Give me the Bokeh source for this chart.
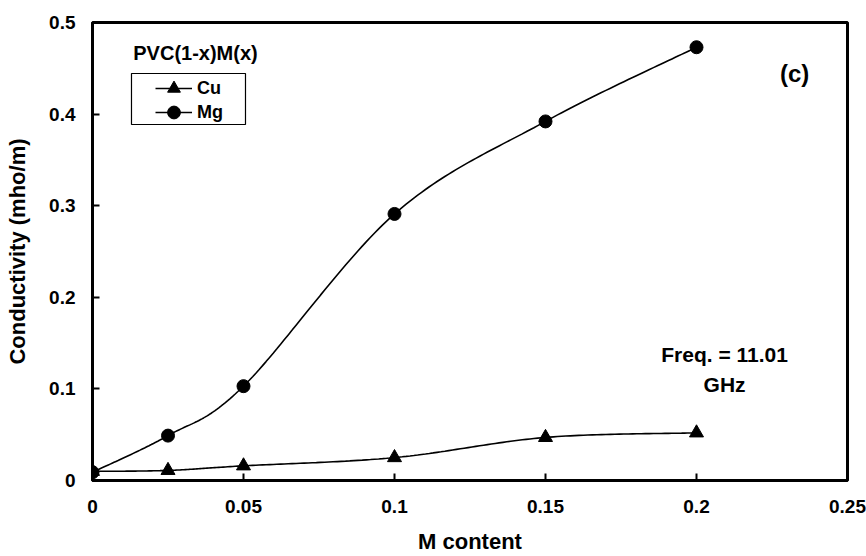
import numpy as np
from bokeh.plotting import figure
from bokeh.models import Label, Legend, LegendItem, FixedTicker, BoxAnnotation
from bokeh.embed import file_html
from bokeh.resources import INLINE

# ---- data ----
m_content = [0.0, 0.025, 0.05, 0.1, 0.15, 0.2]
cu_cond = [0.010, 0.011, 0.016, 0.025, 0.047, 0.052]
mg_cond = [0.009, 0.049, 0.103, 0.291, 0.392, 0.473]
x_ticks = [0, 0.05, 0.1, 0.15, 0.2, 0.25]
x_tick_labels = ["0", "0.05", "0.1", "0.15", "0.2", "0.25"]
y_ticks = [0, 0.1, 0.2, 0.3, 0.4, 0.5]
y_tick_labels = ["0", "0.1", "0.2", "0.3", "0.4", "0.5"]
series_names = ["Cu", "Mg"]
legend_title = "PVC(1-x)M(x)"
panel_tag = "(c)"
freq_text = "Freq. = 11.01\nGHz"

FONT = "Liberation Sans"


def smooth(xs, ys, n=40):
    """Bezier smoothing (like a spreadsheet's smoothed line) through the points."""
    xs = np.asarray(xs, float)
    ys = np.asarray(ys, float)
    px = np.concatenate([[xs[0]], xs, [xs[-1]]])
    py = np.concatenate([[ys[0]], ys, [ys[-1]]])
    ox, oy = [], []
    for i in range(1, len(px) - 2):
        p0x, p1x, p2x, p3x = px[i - 1], px[i], px[i + 1], px[i + 2]
        p0y, p1y, p2y, p3y = py[i - 1], py[i], py[i + 1], py[i + 2]
        c1x = p1x + (p2x - p0x) / 6
        c1y = p1y + (p2y - p0y) / 6
        c2x = p2x - (p3x - p1x) / 6
        c2y = p2y - (p3y - p1y) / 6
        t = np.linspace(0, 1, n)
        bx = (1 - t) ** 3 * p1x + 3 * (1 - t) ** 2 * t * c1x + 3 * (1 - t) * t ** 2 * c2x + t ** 3 * p2x
        by = (1 - t) ** 3 * p1y + 3 * (1 - t) ** 2 * t * c1y + 3 * (1 - t) * t ** 2 * c2y + t ** 3 * p2y
        ox.extend(bx.tolist())
        oy.extend(by.tolist())
    return ox, oy


p = figure(
    width=866, height=556,
    x_range=(0, 0.25), y_range=(0, 0.5),
    output_backend="svg", toolbar_location=None,
    min_border_left=92, min_border_right=19, min_border_top=22, min_border_bottom=76,
)
p.xgrid.visible = False
p.ygrid.visible = False
p.outline_line_color = "black"
p.outline_line_width = 3
p.background_fill_color = "white"
p.border_fill_color = "white"

for ax in (p.xaxis[0], p.yaxis[0]):
    ax.axis_line_width = 3
    ax.axis_line_color = "black"
    ax.major_tick_in = 7
    ax.major_tick_out = 0
    ax.major_tick_line_width = 2
    ax.major_tick_line_color = "black"
    ax.minor_tick_line_color = None
    ax.major_label_text_font = FONT
    ax.major_label_text_font_style = "bold"
    ax.major_label_text_font_size = "19px"
    ax.major_label_text_color = "black"
    ax.axis_label_text_font = FONT
    ax.axis_label_text_font_style = "bold"
    ax.axis_label_text_font_size = "22px"
    ax.axis_label_text_color = "black"

p.xaxis[0].ticker = FixedTicker(ticks=x_ticks)
p.yaxis[0].ticker = FixedTicker(ticks=y_ticks)
p.xaxis[0].major_label_overrides = {t: s for t, s in zip(x_ticks, x_tick_labels)}
p.yaxis[0].major_label_overrides = {t: s for t, s in zip(y_ticks, y_tick_labels)}
p.xaxis[0].axis_label = "M content"
p.yaxis[0].axis_label = "Conductivity (mho/m)"
p.xaxis[0].major_label_standoff = 19
p.xaxis[0].axis_label_standoff = 13
p.yaxis[0].major_label_standoff = 17
p.yaxis[0].axis_label_standoff = 16

cx, cy = smooth(m_content, cu_cond)
mx, my = smooth(m_content, mg_cond)
cu_line = p.line(cx, cy, line_color="black", line_width=1.6)
cu_pts = p.scatter(m_content, cu_cond, marker="triangle", size=14, fill_color="black", line_color="black")
mg_line = p.line(mx, my, line_color="black", line_width=1.6)
mg_pts = p.scatter(m_content, mg_cond, marker="circle", size=13, fill_color="black", line_color="black")

# legend frame (the title sits outside of it, above)
p.add_layout(BoxAnnotation(left=0.01291, right=0.05066, bottom=0.38865, top=0.44432,
                           fill_alpha=0, line_color="black", line_alpha=1.0, line_width=1.2))

legend_style = dict(
    border_line_color=None, background_fill_alpha=0,
    label_text_font=FONT, label_text_font_style="bold", label_text_font_size="18px",
    label_text_color="black",
    glyph_width=37, glyph_height=32, label_standoff=5,
    padding=0, spacing=0, margin=0, label_height=20,
)
legend_cu = Legend(items=[LegendItem(label=series_names[0], renderers=[cu_line, cu_pts])],
                   location=(63, 376), **legend_style)
legend_mg = Legend(items=[LegendItem(label=series_names[1], renderers=[mg_line, mg_pts])],
                   location=(63, 352), **legend_style)
p.add_layout(legend_cu, "center")
p.add_layout(legend_mg, "center")

p.add_layout(Label(x=0.0341, y=0.4662, text=legend_title, text_font=FONT, text_font_style="bold",
                   text_font_size="20px", text_color="black",
                   text_align="center", text_baseline="middle"))
p.add_layout(Label(x=0.2325, y=0.4441, text=panel_tag, text_font=FONT, text_font_style="bold",
                   text_font_size="24px", text_color="black",
                   text_align="center", text_baseline="middle"))
p.add_layout(Label(x=0.2093, y=0.1212, text=freq_text, text_font=FONT, text_font_style="bold",
                   text_font_size="21px", text_color="black",
                   text_align="center", text_baseline="middle",
                   text_line_height=1.33))

open("out.html", "w").write(file_html(p, INLINE))
